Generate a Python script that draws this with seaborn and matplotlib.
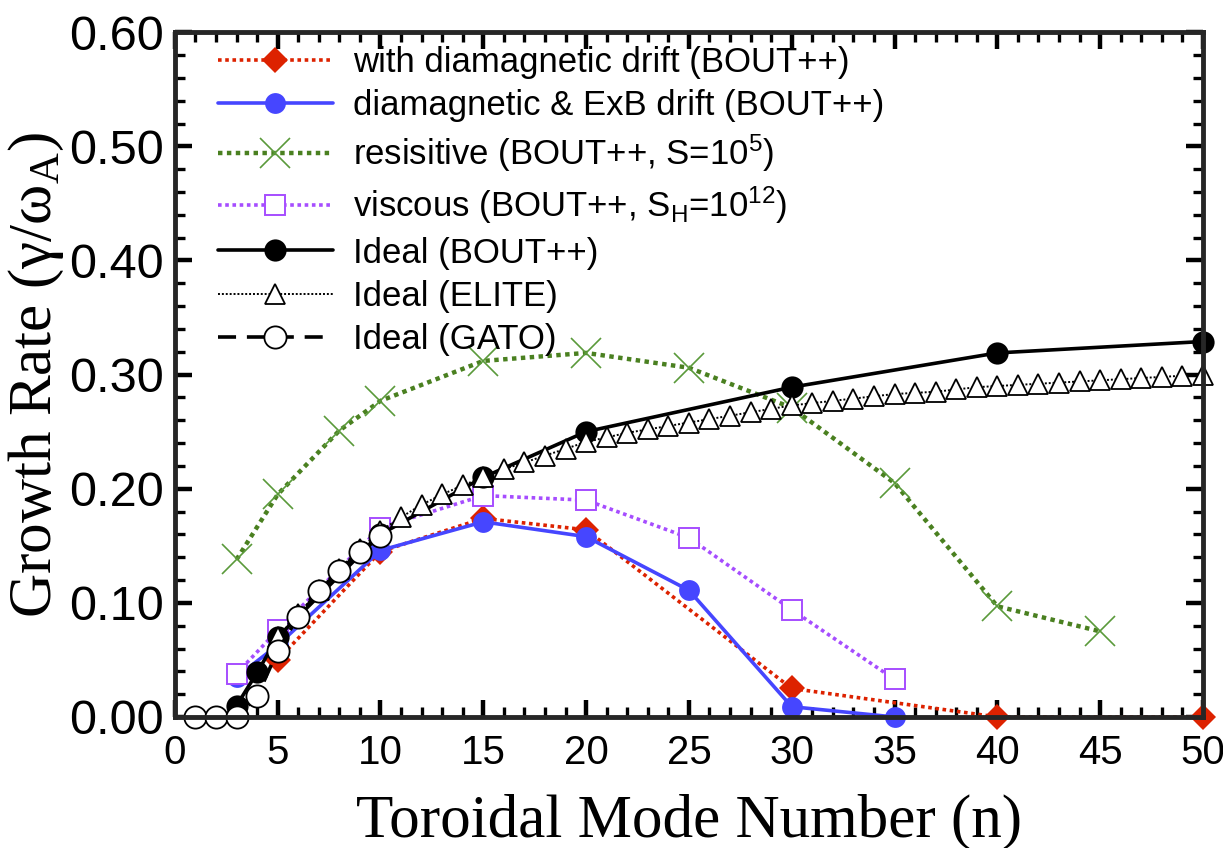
import numpy as np
import pandas as pd
import matplotlib
matplotlib.use("Agg")
import matplotlib.pyplot as plt
from matplotlib.ticker import MultipleLocator, FormatStrFormatter
import seaborn as sns

# growth rate vs toroidal mode number
n_dia = [5, 10, 15, 20, 30, 40, 50]
g_dia = [0.050, 0.145, 0.174, 0.164, 0.025, 0.0, 0.0]

n_exb = [3, 5, 10, 15, 20, 25, 30, 35]
g_exb = [0.035, 0.063, 0.146, 0.171, 0.158, 0.111, 0.009, 0.0]

n_res = [3, 5, 8, 10, 15, 20, 25, 30, 35, 40, 45]
g_res = [0.138, 0.195, 0.251, 0.277, 0.312, 0.319, 0.306, 0.271, 0.205, 0.097, 0.075]

n_vis = [3, 5, 10, 15, 20, 25, 30, 35]
g_vis = [0.038, 0.076, 0.166, 0.194, 0.190, 0.157, 0.094, 0.033]

n_bout = [3, 4, 5, 10, 15, 20, 30, 40, 50]
g_bout = [0.010, 0.039, 0.070, 0.160, 0.210, 0.250, 0.289, 0.319, 0.329]

n_elite = list(range(5, 51))
g_elite = [0.070, 0.090, 0.111, 0.130, 0.147, 0.163, 0.175, 0.186, 0.195, 0.203, 0.210,
           0.217, 0.223, 0.229, 0.235, 0.241, 0.245, 0.249, 0.252, 0.255, 0.258,
           0.261, 0.264, 0.267, 0.270, 0.273, 0.275, 0.277, 0.279, 0.281, 0.283,
           0.284, 0.285, 0.287, 0.289, 0.290, 0.291, 0.292, 0.293, 0.294, 0.295,
           0.296, 0.297, 0.298, 0.299, 0.300]

n_gato = [1, 2, 3, 4, 5, 6, 7, 8, 9, 10]
g_gato = [0.0, 0.0, 0.0, 0.018, 0.058, 0.088, 0.110, 0.128, 0.145, 0.159]

labels = [
    "with diamagnetic drift (BOUT++)",
    "diamagnetic & ExB drift (BOUT++)",
    "resisitive (BOUT++, S=10$\\mathregular{^5}$)",
    "viscous (BOUT++, S$\\mathregular{_H}$=10$\\mathregular{^{12}}$)",
    "Ideal (BOUT++)",
    "Ideal (ELITE)",
    "Ideal (GATO)",
]

sns.set_style("ticks")
plt.rcParams["font.family"] = ["Liberation Sans", "DejaVu Sans"]
plt.rcParams["mathtext.default"] = "regular"
for k in ["text.color", "axes.labelcolor", "xtick.color", "ytick.color"]:
    plt.rcParams[k] = "black"

fig = plt.figure(figsize=(12.23, 8.48), dpi=100)
ax = fig.add_axes([0.143, 0.1545, 0.8406, 0.8075])

dot = (0, (1, 1))
sns.lineplot(x=n_dia, y=g_dia, ax=ax, color="#dd2200", linestyle=dot, linewidth=2.6,
             marker="D", markersize=13, markeredgewidth=0, label=labels[0], clip_on=False)
sns.lineplot(x=n_exb, y=g_exb, ax=ax, color="#4646ff", linestyle="-", linewidth=2.6,
             marker="o", markersize=15, markeredgewidth=0, label=labels[1], clip_on=False)
sns.lineplot(x=n_res, y=g_res, ax=ax, color="#4a8020", linestyle=dot, linewidth=3.2,
             marker="x", markersize=21, markeredgewidth=1.2, markeredgecolor="#5a9a3a",
             label=labels[2], clip_on=False)
sns.lineplot(x=n_vis, y=g_vis, ax=ax, color="#a64dff", linestyle=dot, linewidth=2.6,
             marker="s", markersize=14, markerfacecolor="white", markeredgecolor="#a64dff",
             markeredgewidth=1.4, label=labels[3], clip_on=False)
sns.lineplot(x=n_bout, y=g_bout, ax=ax, color="black", linestyle="-", linewidth=2.6,
             marker="o", markersize=16, markeredgewidth=0, label=labels[4], clip_on=False)
sns.lineplot(x=n_elite, y=g_elite, ax=ax, color="black", linestyle=dot, linewidth=1.4,
             marker="^", markersize=15, markerfacecolor="white", markeredgecolor="black",
             markeredgewidth=1.3, label=labels[5], clip_on=False)
sns.lineplot(x=n_gato, y=g_gato, ax=ax, color="black", linestyle=(0, (5, 3)), linewidth=2.6,
             marker="o", markersize=16, markerfacecolor="white", markeredgecolor="black",
             markeredgewidth=1.3, label=labels[6], clip_on=False)

ax.set_xlim(0, 50)
ax.set_ylim(0, 0.6)
ax.xaxis.set_major_locator(MultipleLocator(5))
ax.xaxis.set_minor_locator(MultipleLocator(1))
ax.yaxis.set_major_locator(MultipleLocator(0.1))
ax.yaxis.set_minor_locator(MultipleLocator(0.02))
ax.yaxis.set_major_formatter(FormatStrFormatter("%.2f"))

for s in ax.spines.values():
    s.set_linewidth(3.5)
    s.set_visible(True)
ax.tick_params(which="both", direction="in", top=True, right=True, color="black")
ax.tick_params(which="major", length=12, width=3.2)
ax.tick_params(which="minor", length=7, width=2.4)
ax.tick_params(axis="y", labelsize=35, pad=8)
ax.tick_params(axis="x", labelsize=29, pad=12)

ax.set_xlabel("Toroidal Mode Number (n)", family=["Liberation Serif"], fontsize=44, labelpad=16)
ax.set_ylabel("Growth Rate (γ/ω$\\mathregular{_A}$)", family=["Liberation Serif"], fontsize=44,
              labelpad=2)

leg = ax.legend(loc="upper left", bbox_to_anchor=(0.042, 0.98), frameon=False,
                fontsize=25, handlelength=3.3, handletextpad=0.6, labelspacing=0.3,
                borderpad=0, borderaxespad=0)

fig.savefig("out.png", dpi=100)
